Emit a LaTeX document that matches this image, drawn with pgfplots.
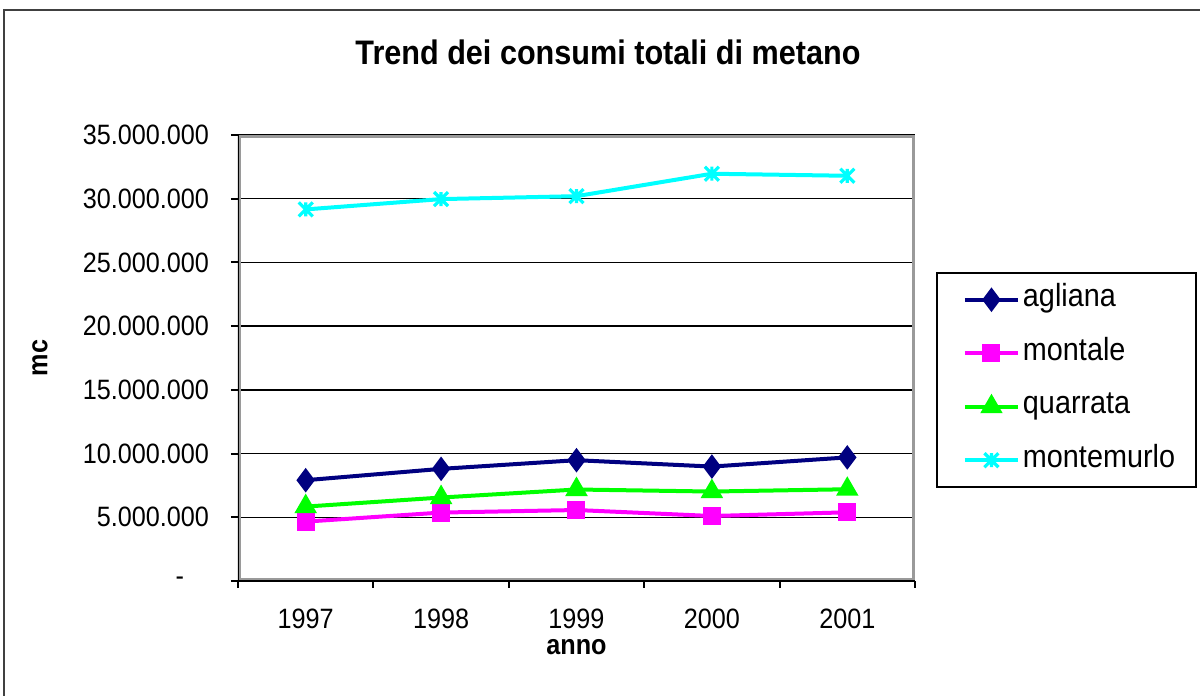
\documentclass[border=0pt]{standalone}
\usepackage{pgfplots}
\pgfplotsset{compat=1.18}
\usepackage{fontspec}
\setmainfont[FakeStretch=0.9]{Liberation Sans}

\definecolor{cAgliana}{HTML}{000080}
\definecolor{cMontale}{HTML}{FF00FF}
\definecolor{cQuarrata}{HTML}{00FF00}
\definecolor{cMontemurlo}{HTML}{00FFFF}
\definecolor{plotframe}{HTML}{9A9A9A}

% X-shaped star with a vertical bar
\pgfdeclareplotmark{xstar}{%
  \pgfpathmoveto{\pgfqpoint{-\pgfplotmarksize}{-\pgfplotmarksize}}%
  \pgfpathlineto{\pgfqpoint{\pgfplotmarksize}{\pgfplotmarksize}}%
  \pgfpathmoveto{\pgfqpoint{-\pgfplotmarksize}{\pgfplotmarksize}}%
  \pgfpathlineto{\pgfqpoint{\pgfplotmarksize}{-\pgfplotmarksize}}%
  \pgfpathmoveto{\pgfqpoint{0pt}{-\pgfplotmarksize}}%
  \pgfpathlineto{\pgfqpoint{0pt}{\pgfplotmarksize}}%
  \pgfusepathqstroke}

\newcommand{\tickfont}{\fontsize{14}{16}\selectfont}
\newcommand{\legendfont}{\fontsize{16}{18}\selectfont}

\begin{document}
\begin{tikzpicture}
\useasboundingbox (0,0) rectangle (600pt,348pt);
% chart area frame (left and top edges)
\draw[line width=1pt, black!75] (2pt,-5pt) -- (2pt,343pt) -- (605pt,343pt);
\begin{axis}[
  at={(119pt,57.5pt)}, anchor=south west,
  scale only axis, width=338.5pt, height=223pt,
  xmin=-0.5, xmax=4.5, ymin=0, ymax=35000000,
  xtick={-0.5,0.5,...,4.5},
  x tick label as interval,
  xticklabels={1997,1998,1999,2000,2001},
  ytick={0,5000000,...,35000000},
  yticklabels={\mbox{-\kern12.5pt},5.000.000,10.000.000,15.000.000,20.000.000,25.000.000,30.000.000,35.000.000},
  scaled y ticks=false,
  xtick pos=bottom, ytick pos=left,
  tick align=outside,
  major tick length=3.5pt,
  tick style={black, line width=1pt},
  axis line style={draw=none},
  ymajorgrids,
  grid style={black, line width=0.75pt},
  every tick label/.append style={font=\tickfont, text=black},
  xticklabel style={yshift=-7pt},
  yticklabel style={xshift=-7.5pt},
  title={Trend dei consumi totali di metano},
  title style={at={(axis description cs:0.5465,1.159)}, anchor=center,
    font=\bfseries\fontsize{17}{19}\selectfont},
  xlabel={anno}, ylabel={mc},
  every axis x label/.style={at={(axis description cs:0.5,-0.148)}, anchor=center,
    font=\bfseries\fontsize{14}{16}\selectfont},
  every axis y label/.style={at={(axis description cs:-0.2925,0.5)}, anchor=center, rotate=90,
    font=\bfseries\fontsize{14}{16}\selectfont},
  legend cell align=left,
  legend image code/.code={%
    \path (-2.5pt,0pt) (28pt,0pt);
    \draw[mark repeat=2, mark phase=2, #1] plot coordinates {(0pt,0pt) (13.25pt,0pt) (26.5pt,0pt)};},
  legend style={at={(1.031,0.4507)}, anchor=west, draw=black, line width=1pt,
    inner xsep=10.5pt, inner ysep=7pt, row sep=13.75pt,
    font=\legendfont,
    nodes={inner sep=0pt, text height=10pt, text depth=3pt}},
]
\addplot[cAgliana, line width=2pt, mark=diamond*, mark size=4.5pt, mark options={solid}]
  coordinates {(0,7910000) (1,8800000) (2,9480000) (3,8980000) (4,9700000)};
\addlegendentry{agliana}
\addplot[cMontale, line width=2pt, mark=square*, mark size=3.5pt, mark options={solid}]
  coordinates {(0,4660000) (1,5370000) (2,5570000) (3,5100000) (4,5390000)};
\addlegendentry{montale}
\addplot[cQuarrata, line width=2pt, mark=triangle*, mark size=4.5pt, mark options={solid}]
  coordinates {(0,5840000) (1,6550000) (2,7180000) (3,7020000) (4,7200000)};
\addlegendentry{quarrata}
\addplot[cMontemurlo, line width=2pt, mark=xstar, mark size=3.5pt, mark options={solid, line width=1.6pt}]
  coordinates {(0,29160000) (1,29970000) (2,30200000) (3,31960000) (4,31800000)};
\addlegendentry{montemurlo}
% plot area border: grey box, black axis lines on the left and bottom
\draw[plotframe, line width=1.5pt] ([shift={(0.75pt,0.75pt)}]rel axis cs:0,0) rectangle ([shift={(-0.75pt,-0.75pt)}]rel axis cs:1,1);
\draw[black, line width=1pt] (rel axis cs:0,1) -- (rel axis cs:0,0) -- (rel axis cs:1,0);
\end{axis}
\end{tikzpicture}
\end{document}
